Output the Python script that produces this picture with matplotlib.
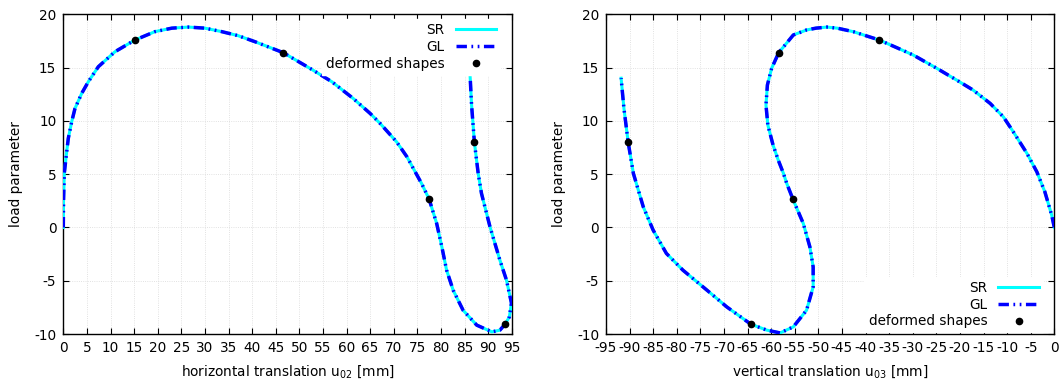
import matplotlib
matplotlib.use("Agg")
import matplotlib.pyplot as plt

# ---- data ----
# left plot: horizontal translation u02 vs load parameter
u02_path = [0, 0.05, 0.21, 0.72, 1.06, 1.78, 2.48, 3.9, 5.3, 7.42, 10.95, 15.2, 19.4, 23.0, 26.5,
            30.0, 33.6, 37.0, 40.6, 46.6, 52.6, 56.9, 61.4, 65.0, 67.1, 70.6, 72.8, 75.9, 77.5, 79.1,
            80.2, 81.2, 82.6, 84.7, 87.6, 90.8, 92.5, 93.6, 94.5, 94.95, 93.9, 92.5, 90.4, 88.6,
            87.9, 87.1, 86.5, 86.2]
lam_left = [0, 2.5, 5.07, 7.1, 8.36, 9.92, 11.17, 12.58, 13.67, 15.08, 16.49, 17.59, 18.37, 18.7, 18.8,
            18.7, 18.37, 18.0, 17.43, 16.4, 14.84, 13.67, 12.11, 10.7, 9.77, 8.04, 6.63, 4.13, 2.66, 0.38,
            -1.82, -4.0, -5.89, -7.77, -9.17, -9.8, -9.64, -9.08, -8.4, -7.1, -4.95, -3.07, 0.06, 3.19,
            5.07, 7.98, 11.48, 14.1]

# right plot: vertical translation u03 vs load parameter
u03_path = [0, -0.55, -2.0, -3.7, -5.8, -8.7, -10.8, -13.6, -17.2, -20.7, -24.9, -29.9, -33.4,
            -37.1, -42.6, -46.0, -48.2,
            -50.5, -52.5, -55.3, -58.4, -59.9, -60.8, -61.1, -60.7, -59.6, -58.5, -57.4, -56.7,
            -55.4, -53.2, -51.8, -51.1, -51.1, -52.5, -55.3, -58.1, -60.9, -64.3, -69.4, -73.6,
            -78.7, -82.2, -85.0, -87.1, -89.2, -90.3, -91.2, -91.8]
lam_right = [0, 1.15, 3.34, 5.22, 6.95, 8.98, 10.38, 11.64, 12.89, 13.83, 14.93, 16.18, 16.87,
             17.59, 18.37, 18.7, 18.8,
             18.7, 18.53, 18.06, 16.4, 14.93, 13.36, 11.48, 9.6, 7.73, 6.32, 5.07, 4.13,
             2.66, 0.38, -1.82, -3.7, -5.58, -7.77, -9.33, -9.9, -9.64, -9.08, -7.46, -5.89,
             -4.01, -2.44, -0.26, 1.93, 5.07, 7.98, 11.17, 14.0]

# deformed shapes markers
lam_shapes = [17.59, 16.4, 2.66, -9.08, 7.98]
u02_shapes = [15.2, 46.6, 77.5, 93.6, 87.1]
u03_shapes = [-37.1, -58.4, -55.4, -64.3, -90.3]

xticks_left = list(range(0, 96, 5))
xticks_right = list(range(-95, 1, 5))
yticks = [-10, -5, 0, 5, 10, 15, 20]

plt.rcParams['font.family'] = ['DejaVu Sans']
plt.rcParams['font.size'] = 9.8
plt.rcParams['mathtext.default'] = 'regular'
plt.rcParams['axes.unicode_minus'] = False

fig = plt.figure(figsize=(10.6, 3.83), dpi=100)
W, H = 1060, 383
axL = fig.add_axes([63.3 / W, 1 - 334 / H, (511.7 - 63.3) / W, (334 - 14.3) / H])
axR = fig.add_axes([606.0 / W, 1 - 334 / H, (1054.3 - 606.0) / W, (334 - 14.3) / H])

gl_dashes = (3.0, 1.3, 0.5, 1.3, 0.5, 1.3)

def draw(ax, x, y, xs, xlim, xticks, xlabel, legloc, bbox):
    ax.plot(x, y, color='#00ffff', lw=2.2, solid_joinstyle='round', label='SR', zorder=3)
    ax.plot(x, y, color='#0000ff', lw=2.5, dashes=gl_dashes, dash_joinstyle='round',
            label='GL', zorder=4)
    ax.plot(xs, lam_shapes, 'o', color='black', ms=4.5, ls='none',
            label='deformed shapes', zorder=5)
    ax.set_xlim(*xlim)
    ax.set_ylim(-10, 20)
    ax.set_xticks(xticks)
    ax.set_yticks(yticks)
    ax.grid(True, color='#d8d8d8', lw=0.6, ls=':')
    ax.set_axisbelow(True)
    ax.tick_params(direction='in', top=True, right=True, length=4.5, width=0.8,
                   labelsize=9.8, pad=5, colors='black')
    for s in ax.spines.values():
        s.set_linewidth(1.0)
    ax.set_xlabel(xlabel, fontsize=9.8, labelpad=6)
    ax.set_ylabel('load parameter', fontsize=9.8, labelpad=8)
    leg = ax.legend(loc=legloc, bbox_to_anchor=bbox, markerfirst=False, numpoints=1,
                    frameon=True, fancybox=False, framealpha=1, edgecolor='white',
                    facecolor='white', handlelength=3.0, labelspacing=0.2,
                    handletextpad=0.8, borderpad=0.3, borderaxespad=0.0, fontsize=9.8)
    leg.set_zorder(6)
    return leg

draw(axL, u02_path, lam_left, u02_shapes, (0, 95), xticks_left,
     r'horizontal translation u$_{02}$ [mm]', 'upper right', (0.975, 0.985))
draw(axR, u03_path, lam_right, u03_shapes, (-95, 0), xticks_right,
     r'vertical translation u$_{03}$ [mm]', 'lower right', (0.975, 0.005))

fig.savefig('out.png', dpi=100)
